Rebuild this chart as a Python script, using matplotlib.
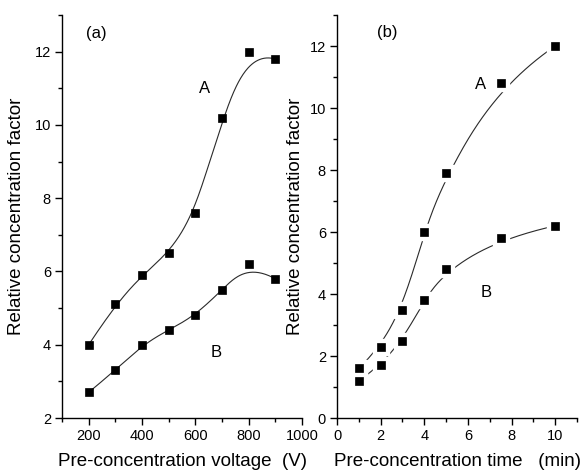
import numpy as np
import matplotlib
matplotlib.use("Agg")
import matplotlib.pyplot as plt
from matplotlib.ticker import MultipleLocator

plt.rcParams['font.family'] = ['Liberation Sans', 'DejaVu Sans']

# Panel (a): relative concentration factor vs pre-concentration voltage
voltage = [200, 300, 400, 500, 600, 700, 800, 900]
volt_A = [4.0, 5.1, 5.9, 6.5, 7.6, 10.2, 12.0, 11.8]
volt_B = [2.7, 3.3, 4.0, 4.4, 4.8, 5.5, 6.2, 5.8]

# Panel (b): relative concentration factor vs pre-concentration time
time_min = [1, 2, 3, 4, 5, 7.5, 10]
time_A = [1.6, 2.3, 3.5, 6.0, 7.9, 10.8, 12.0]
time_B = [1.2, 1.7, 2.5, 3.8, 4.8, 5.8, 6.2]


def bspline(xs, ys, n=300):
    """Clamped cubic B-spline using the data points as control points."""
    P = np.column_stack([xs, ys]).astype(float)
    m = len(P) - 1
    k = 3
    inner = np.arange(1, m - k + 1)
    knots = np.concatenate([np.zeros(k + 1), inner, np.full(k + 1, m - k + 1)]).astype(float)
    t = np.linspace(0, knots[-1], n)
    t[-1] -= 1e-9

    def N(i, p, t):
        if p == 0:
            return np.where((knots[i] <= t) & (t < knots[i + 1]), 1.0, 0.0)
        a = 0.0
        d1 = knots[i + p] - knots[i]
        if d1 > 0:
            a = (t - knots[i]) / d1 * N(i, p - 1, t)
        b = 0.0
        d2 = knots[i + p + 1] - knots[i + 1]
        if d2 > 0:
            b = (knots[i + p + 1] - t) / d2 * N(i + 1, p - 1, t)
        return a + b

    B = np.array([N(i, k, t) for i in range(m + 1)])
    C = B.T @ P
    return C[:, 0], C[:, 1]


fig = plt.figure(figsize=(5.84, 4.75), dpi=100)
W_, H_ = 584, 475
ax1 = fig.add_axes([62 / W_, 1 - 418 / H_, (302 - 62) / W_, (418 - 15) / H_])
ax2 = fig.add_axes([337 / W_, 1 - 418 / H_, (577 - 337) / W_, (418 - 15) / H_])

lc = '#2a2a2a'
for ax, x, ya, yb, halo in [(ax1, voltage, volt_A, volt_B, 0),
                            (ax2, time_min, time_A, time_B, 11)]:
    for y in (ya, yb):
        cx, cy = bspline(x, y)
        ax.plot(cx, cy, color=lc, lw=0.8, zorder=2)
        if halo:
            ax.plot(x, y, 's', color='white', ms=halo, zorder=3)
        ax.plot(x, y, 's', color='black', ms=6.2, mec='black', mew=0.5, zorder=4)

for ax in (ax1, ax2):
    for s in ('top', 'right'):
        ax.spines[s].set_visible(False)
    ax.spines['left'].set_linewidth(1.0)
    ax.spines['bottom'].set_linewidth(1.0)
    ax.tick_params(which='major', direction='out', length=5, width=1, labelsize=10.5, pad=3)
    ax.tick_params(which='minor', direction='out', length=3, width=1)

ax1.set_xlim(100, 1000)
ax1.set_ylim(2, 13)
ax1.set_xticks([200, 400, 600, 800, 1000])
ax1.xaxis.set_minor_locator(MultipleLocator(100))
ax1.yaxis.set_major_locator(MultipleLocator(2))
ax1.yaxis.set_minor_locator(MultipleLocator(1))

ax2.set_xlim(0, 11)
ax2.set_ylim(0, 13)
ax2.set_xticks([0, 2, 4, 6, 8, 10])
ax2.xaxis.set_minor_locator(MultipleLocator(1))
ax2.yaxis.set_major_locator(MultipleLocator(2))
ax2.yaxis.set_minor_locator(MultipleLocator(1))

ax1.set_ylabel('Relative concentration factor', fontsize=13.5, labelpad=7)
ax2.set_ylabel('Relative concentration factor', fontsize=13.5, labelpad=4)
ax1.set_xlabel('Pre-concentration voltage  (V)', fontsize=13.5, labelpad=7)
ax2.set_xlabel('Pre-concentration time   (min)', fontsize=13.5, labelpad=7)

ax1.text(227, 12.5, '(a)', fontsize=12, ha='center', va='center')
ax1.text(634, 11.0, 'A', fontsize=12, ha='center', va='center')
ax1.text(678, 3.8, 'B', fontsize=12, ha='center', va='center')
ax2.text(2.3, 12.45, '(b)', fontsize=12, ha='center', va='center')
ax2.text(6.57, 10.77, 'A', fontsize=12, ha='center', va='center')
ax2.text(6.85, 4.05, 'B', fontsize=12, ha='center', va='center')

fig.savefig('out.png', dpi=100)
